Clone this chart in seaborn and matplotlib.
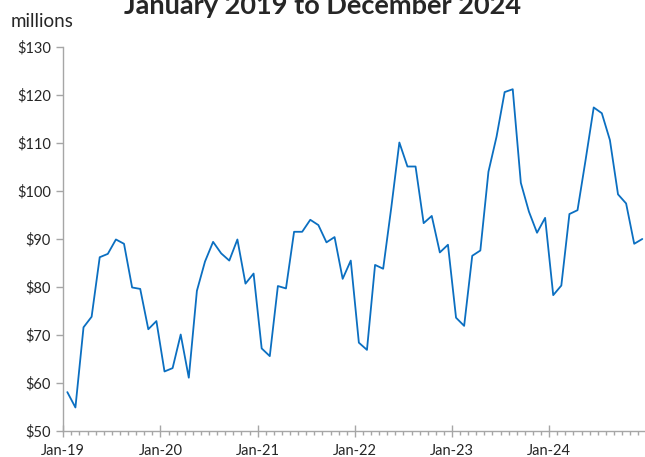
import numpy as np
import pandas as pd
import seaborn as sns
import matplotlib.pyplot as plt
from matplotlib.ticker import MultipleLocator, FixedLocator

sns.set_style("white")
plt.rcParams['font.family'] = ['Lato', 'DejaVu Sans']

# monthly values, $ millions, Jan 2019 .. Dec 2024
v2019 = [58.1, 54.9, 71.6, 73.8, 86.2, 86.9, 89.9, 89.0, 79.9, 79.6, 71.2, 72.9]
v2020 = [62.4, 63.1, 70.1, 61.1, 79.2, 85.3, 89.4, 87.0, 85.5, 89.9, 80.7, 82.8]
v2021 = [67.2, 65.6, 80.2, 79.7, 91.5, 91.5, 94.0, 92.9, 89.3, 90.4, 81.7, 85.5]
v2022 = [68.4, 66.9, 84.6, 83.8, 96.5, 110.1, 105.1, 105.1, 93.3, 94.8, 87.2, 88.8]
v2023 = [73.6, 71.9, 86.5, 87.6, 104.0, 111.3, 120.6, 121.2, 101.7, 95.7, 91.3, 94.4]
v2024 = [78.3, 80.3, 95.2, 96.0, 106.5, 117.4, 116.2, 110.6, 99.3, 97.4, 89.0, 90.0]
year_labels = ["Jan-19", "Jan-20", "Jan-21", "Jan-22", "Jan-23", "Jan-24"]

values = v2019 + v2020 + v2021 + v2022 + v2023 + v2024
df = pd.DataFrame({"month": np.arange(len(values)) + 0.5, "value": values})

fig = plt.figure(figsize=(6.45, 4.57), dpi=100)
ax = fig.add_axes([0.0981, 0.0569, 0.904, 0.8403])

sns.lineplot(data=df, x="month", y="value", ax=ax, color="#0B6FC1", linewidth=1.3)

ax.set_xlim(0, len(values))
ax.set_ylim(50, 130)
ax.yaxis.set_major_locator(MultipleLocator(10))
ax.set_yticklabels([f"${int(t)}" for t in ax.get_yticks()])
ax.xaxis.set_major_locator(FixedLocator(np.arange(0, len(values), 12)))
ax.xaxis.set_minor_locator(MultipleLocator(1))
ax.set_xticklabels(year_labels)

for s in ["top", "right"]:
    ax.spines[s].set_visible(False)
for s in ["left", "bottom"]:
    ax.spines[s].set_color("#a6a6a6")
    ax.spines[s].set_linewidth(1.0)

ax.tick_params(axis="y", which="major", left=True, length=5, width=1, color="#a6a6a6",
               labelsize=10.5, labelcolor="#262626", pad=4)
ax.tick_params(axis="x", which="major", bottom=True, direction="inout", length=9, width=1,
               color="#a6a6a6", labelsize=10.5, labelcolor="#262626", pad=5)
ax.tick_params(axis="x", which="minor", bottom=True, length=3, width=1, color="#a6a6a6")

ax.set_xlabel("")
ax.set_ylabel("")

fig.text(0.017, 0.954, "millions", fontsize=13.5, color="#262626", va="center", ha="left")
fig.text(0.5, 0.970, "January 2019 to December 2024", fontsize=19.5, fontweight="bold",
         color="#262626", ha="center", va="baseline")

plt.savefig("out.png", dpi=100)
